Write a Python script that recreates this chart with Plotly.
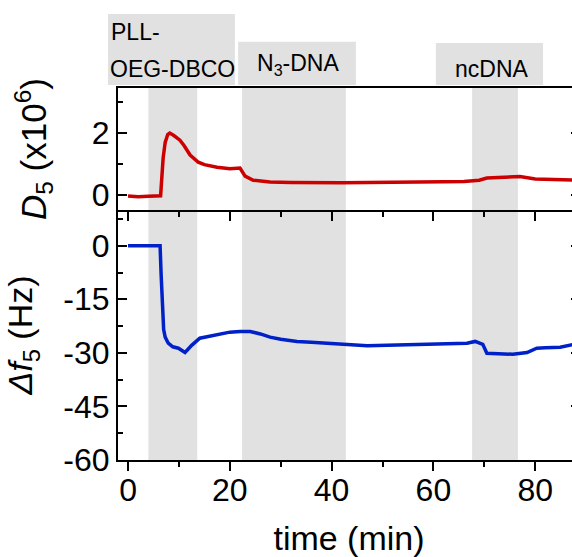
import plotly.graph_objects as go
from plotly.subplots import make_subplots

# dissipation shift D5 (x10^6)
d5_time = [0, 2, 4, 6, 6.4, 6.9, 7.3, 7.8, 8.2, 9, 10.2, 11, 12.2, 13.8, 15, 17.5,
           20, 22, 23, 24.6, 27.9, 32, 37.7, 42, 47, 52, 57, 62, 66, 69, 70.5,
           73, 77, 80, 84, 88.8]
d5_val = [-0.03, -0.05, -0.04, -0.03, -0.02, 1.2, 1.7, 1.95, 2.0, 1.92, 1.77, 1.6,
          1.29, 1.06, 0.98, 0.9, 0.85, 0.87, 0.61, 0.48, 0.42, 0.41, 0.39, 0.40,
          0.41, 0.41, 0.42, 0.43, 0.44, 0.48, 0.55, 0.57, 0.6, 0.52, 0.5, 0.48]

# frequency shift df5 (Hz)
df_time = [0, 3, 5, 6.3, 6.5, 6.7, 7.0, 7.3, 7.9, 8.8, 9.9, 11.2, 12.5, 14.1, 16.1,
           18, 20, 22, 24, 26, 27.9, 30, 33.2, 36, 39, 42, 44.2, 47, 50.9, 55, 60,
           64, 66.6, 68.2, 69.7, 70.5, 72, 75.6, 78.4, 80.3, 82, 84.9, 88.8]
df_val = [0, 0, 0.2, 0, -8, -17, -23.5, -25.6, -27.3, -28.3, -28.7, -29.9, -27.9,
          -25.9, -25.4, -24.8, -24.2, -24, -24, -24.7, -25.6, -26.2, -26.8, -27,
          -27.3, -27.6, -27.9, -28, -27.9, -27.7, -27.6, -27.4, -27.3, -26.8, -27.6,
          -30.1, -30.2, -30.4, -29.9, -28.7, -28.6, -28.4, -27.3]

# injection periods (min)
band_start = [4.0, 22.4, 67.6]
band_end = [13.6, 42.8, 76.6]

df_ticks = [0, -15, -30, -45, -60]
df_ticktext = ["0", "-15", "-30", "-45", "-60"]

FONT = "Liberation Sans, Arial, sans-serif"
RED = "#cc0000"
BLUE = "#0020c8"
GRAY = "#e1e1e1"

fig = make_subplots(rows=2, cols=1, shared_xaxes=True, vertical_spacing=0,
                    row_heights=[0.328, 0.672])

fig.add_trace(go.Scatter(x=d5_time, y=d5_val, mode="lines",
                         line=dict(color=RED, width=3.5)), row=1, col=1)
fig.add_trace(go.Scatter(x=df_time, y=df_val, mode="lines",
                         line=dict(color=BLUE, width=3.5)), row=2, col=1)

for s, e in zip(band_start, band_end):
    fig.add_shape(type="rect", xref="x", yref="paper", x0=s, x1=e, y0=0, y1=1,
                  fillcolor=GRAY, line_width=0, layer="below")

# label boxes above the plot
boxes = [(-0.0216, 0.253, 1.008, 1.199), (0.260, 0.515, 1.008, 1.124),
         (0.688, 0.920, 1.008, 1.121)]
for x0, x1, y0, y1 in boxes:
    fig.add_shape(type="rect", xref="paper", yref="paper", x0=x0, x1=x1, y0=y0, y1=y1,
                  fillcolor=GRAY, line_width=0)

lab_font = dict(family=FONT, size=23, color="black")
fig.add_annotation(text="PLL-", x=-0.019, y=1.15, xref="paper", yref="paper",
                   xanchor="left", yanchor="middle", showarrow=False, font=lab_font)
fig.add_annotation(text="OEG-DBCO", x=-0.021, y=1.052, xref="paper", yref="paper",
                   xanchor="left", yanchor="middle", showarrow=False, font=lab_font)
fig.add_annotation(text="N<sub>3</sub>-DNA", x=0.390, y=1.062, xref="paper", yref="paper",
                   xanchor="center", yanchor="middle", showarrow=False, font=lab_font)
fig.add_annotation(text="ncDNA", x=0.810, y=1.05, xref="paper", yref="paper",
                   xanchor="center", yanchor="middle", showarrow=False, font=lab_font)

axis_common = dict(showline=True, linecolor="black", linewidth=2, showgrid=False,
                   zeroline=False, tickcolor="black", tickwidth=2, automargin=False,
                   tickfont=dict(family=FONT, size=32, color="black"))

fig.update_xaxes(range=[-1.97, 88.8], dtick=20, tick0=0, ticks="outside", ticklen=9,
                 minor=dict(dtick=10, ticks="outside", ticklen=5, tickcolor="black",
                            tickwidth=2),
                 **axis_common)
fig.update_xaxes(showticklabels=False, mirror=True, row=1, col=1)
fig.update_xaxes(title=dict(text="time (min)", font=dict(family=FONT, size=34),
                            standoff=21),
                 ticklabelstandoff=-8, mirror=False, row=2, col=1)

fig.update_yaxes(range=[-0.48, 3.45], dtick=2, tick0=0, ticks="inside", ticklen=9,
                 minor=dict(dtick=1, tick0=0, ticks="inside", ticklen=5,
                            tickcolor="black", tickwidth=2),
                 mirror="allticks", ticklabelstandoff=0,
                 title=dict(text="<i>D</i><sub>5</sub> (x10<sup>6</sup>)",
                            font=dict(family=FONT, size=35), standoff=35),
                 row=1, col=1, **axis_common)
fig.update_yaxes(range=[-60, 10], tickmode="array", tickvals=df_ticks,
                 ticktext=df_ticktext, ticks="inside", ticklen=9,
                 minor=dict(dtick=7.5, tick0=0, ticks="inside", ticklen=5,
                            tickcolor="black", tickwidth=2),
                 mirror="allticks", ticklabelstandoff=0,
                 title=dict(text="<i>Δf</i><sub>5</sub> (Hz)",
                            font=dict(family=FONT, size=34), standoff=20),
                 row=2, col=1, **axis_common)

# plot area runs slightly past the right edge of the window, as in the original
fig.update_layout(width=580, height=557, showlegend=False,
                  margin=dict(l=118, r=0, t=88, b=97),
                  plot_bgcolor="white", paper_bgcolor="white",
                  font=dict(family=FONT, color="black"))

fig.write_html("out.html", config={"displayModeBar": False},
               post_script="document.body.style.margin='0';"
                           "document.body.style.overflow='hidden';")
